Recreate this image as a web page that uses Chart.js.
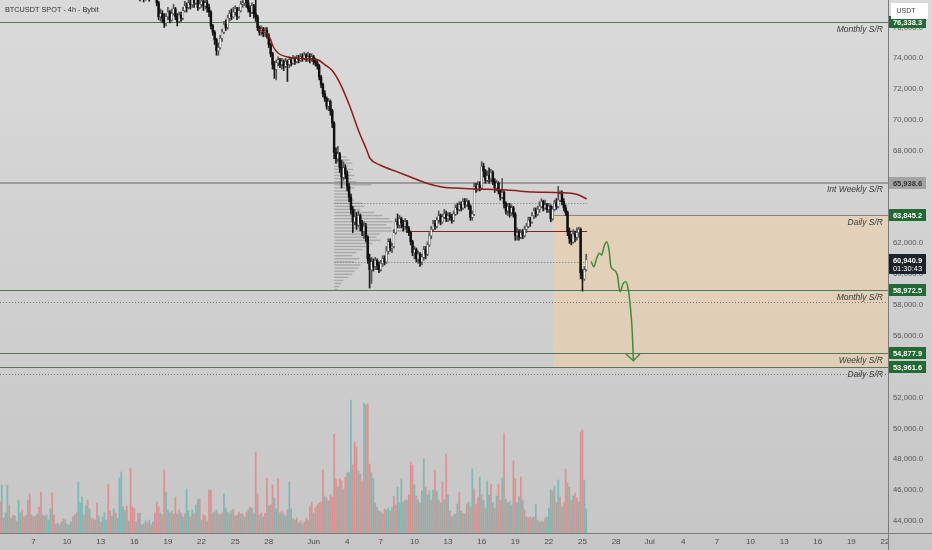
<!DOCTYPE html>
<html><head><meta charset="utf-8">
<script src="https://cdn.jsdelivr.net/npm/chart.js@4.4.1/dist/chart.umd.min.js"></script>
<style>html,body{margin:0;padding:0;background:#d0d0d0;overflow:hidden}canvas{display:block}</style>
</head><body>
<canvas id="c" width="932" height="550"></canvas>
<script>
// ---------------- DATA ----------------
const chartTitle = 'BTCUSDT SPOT - 4h - Bybit';
const currency = 'USDT';

// 4h candles, first candle at May 16 12:00 (day 16.5, days counted from May 0)
const candleStartDay = 16.5;
const candleStepDay = 1 / 6;
const firstOpen = 78300;
const closes = [
78000,78200,77900,78100,78300,78000,78200,78400,78200,77600,
76700,76900,76600,76300,76700,77000,76500,76900,77200,76700,
76400,76800,76600,77100,77400,77300,77600,77500,77800,77600,
77900,77300,77500,77700,77400,77600,77300,77000,76100,75700,
75200,74500,74700,75300,75700,76200,76000,76600,76900,76700,
77000,77200,76700,77100,77500,77600,77800,77600,77200,77000,
77400,76900,76700,76000,75700,75900,75600,75800,75500,74900,
74300,73600,73300,73700,73900,73600,73800,73500,73800,73600,
73900,73700,74000,73800,74000,73900,74100,74000,74200,74000,
74100,74000,74100,73800,73700,73500,72800,72300,71700,71400,
70900,71200,70600,69800,67900,67500,67800,66900,66300,66900,
66500,65700,65000,64200,63400,63700,63200,63800,63300,62800,
63100,62400,61000,60300,60800,60500,60900,60600,60300,60700,
61000,60800,61500,62100,61700,61800,62700,63400,63200,63600,
63300,63100,63400,63000,62700,62100,61400,61600,61000,61300,
60800,61100,61600,61300,61900,62500,62900,63300,63100,63500,
63800,63400,63700,63900,63600,63800,63700,63500,63900,64300,
64200,64500,64300,64700,64500,64700,64400,63700,63900,65700,
65500,65800,65600,67000,66700,66100,66400,66200,66600,66000,
65600,65900,65400,65000,65300,64600,64100,64400,64000,64300,
63900,62500,62700,62400,62700,62500,62900,63100,63500,63400,
63800,64100,63900,64200,64400,64700,64300,64500,64200,64400,
63600,64200,64600,64400,64800,65200,64700,64300,64000,62800,
62300,62100,62600,62400,62700,62900,60100,59700,60300,60940.9];
const highs = [
78600,78500,78400,78400,78500,78400,78500,78700,78600,78400,
77700,77200,77100,76900,76900,77300,77100,77200,77500,77300,
76900,77000,77000,77300,77700,77600,77900,77900,78100,78000,
78300,78100,77800,78000,77900,77900,77800,77500,77100,76200,
75800,75300,75000,75500,75900,76400,76500,76800,77100,77200,
77300,77400,77300,77300,77700,77900,78100,77900,77800,77400,
77600,77500,77900,76800,76100,76100,76000,76000,76000,75600,
75000,74400,73800,73900,74100,74000,74000,73900,74000,73900,
74100,74000,74200,74100,74200,74200,74300,74300,74400,74300,
74400,74300,74300,74200,74000,73900,73600,72900,72400,71900,
71500,71400,71300,70700,69900,68200,68300,67900,67400,67300,
67100,66700,65900,65200,64400,64200,64000,64100,63900,63500,
63400,63300,62500,61300,61100,61000,61100,61000,60800,60900,
61200,61200,61800,62300,62300,62000,62900,63600,63900,63800,
63700,63500,63600,63500,63100,62800,62200,61800,61700,61500,
61400,61300,61800,61800,62100,62700,63100,63500,63500,63700,
64100,63900,63900,64200,64100,64000,64000,63900,64100,64500,
64600,64700,64700,64900,64900,64900,64800,64500,64100,65900,
65900,66000,66000,67300,67200,66800,66700,66900,66800,66700,
66200,66100,66000,65500,66200,65400,64700,64600,64600,64500,
64400,64000,63000,62900,62900,62900,63100,63300,63700,63700,
64000,64300,64300,64400,64700,64900,64800,64800,64600,64600,
64500,64400,64800,64900,65700,65400,65400,64900,64500,64100,
63000,62600,62900,62800,63000,63050,63000,60300,60500,61300];
const lows = [
77720,77800,77650,77760,77900,77700,77900,78000,77900,77400,
76500,76400,76300,76000,76100,76500,76300,76400,76800,76500,
76100,76300,76400,76500,77000,77000,77200,77200,77300,77300,
77500,77100,77200,77300,77100,77200,77000,76700,75900,75500,
74900,74200,74200,74600,75100,75600,75800,75900,76400,76500,
76600,76800,76500,76600,77000,77300,77400,77300,77000,76700,
76900,76600,76400,75800,75500,75500,75400,75400,75300,74700,
74100,73300,72700,72600,73500,73400,73300,73200,73400,72500,
73400,73500,73600,73600,73700,73700,73800,73800,73900,73800,
73800,73700,73800,73600,73500,73300,72600,72100,71500,71200,
70700,70600,70300,69500,67500,67200,67300,66600,65600,66100,
66200,65400,64700,63900,62700,63200,62900,63100,62800,62500,
62300,62100,60700,59100,59400,60200,60300,60300,60100,60200,
60500,60600,60700,61300,61500,61400,61700,62600,63000,63000,
63000,62800,62900,62700,62500,61900,61200,61000,60800,60700,
60500,60600,60900,61000,61200,61800,62300,62800,62900,63000,
63300,63200,63300,63600,63400,63400,63500,63300,63400,63800,
63900,64100,64100,64200,64300,64400,64200,63500,63500,63800,
65300,65400,65400,65500,66300,65900,66000,65900,66000,65800,
65300,65400,65200,64800,64900,64300,63900,63800,63700,63800,
63700,62200,62200,62200,62300,62300,62400,62700,63000,63100,
63300,63600,63700,63800,64000,64300,64100,64200,64000,64000,
63400,63500,64100,64200,64300,64700,64500,64100,63800,62500,
62000,61900,62000,62100,62200,62400,59700,58900,59600,60200];

// 4h volume, first bar at May 4 00:00
const volStartDay = 4;
const volumes = [
310,480,150,200,480,280,150,180,170,120,
330,200,230,160,180,330,390,180,160,170,
190,260,410,180,170,180,130,240,400,180,
90,100,80,110,140,130,90,80,110,160,
180,200,510,300,360,180,280,330,240,150,
140,130,300,170,110,160,200,130,490,220,
170,240,200,150,550,610,260,230,270,120,
650,260,240,110,200,200,80,90,120,100,
130,80,110,200,310,260,200,180,630,410,
230,200,220,190,360,190,230,200,160,190,
440,220,160,230,200,280,340,340,130,180,
170,120,430,430,200,210,230,190,180,200,
390,250,210,200,220,240,170,180,210,190,
190,160,210,230,260,250,200,810,390,180,
200,160,200,550,270,280,480,350,240,540,
200,220,190,170,230,510,240,140,130,150,
100,120,90,110,150,130,260,310,200,250,
280,300,310,630,370,350,320,380,360,990,
540,460,540,520,440,560,600,610,1330,680,
910,860,620,590,520,1300,1280,1290,690,600,
540,300,260,220,210,190,240,230,250,220,
260,370,280,460,300,540,310,330,330,380,
710,680,480,370,330,300,420,740,460,380,
420,330,430,630,420,330,300,510,330,790,
380,220,160,180,190,290,410,220,200,190,
290,310,260,640,440,290,360,560,380,330,
250,520,380,490,300,250,370,490,330,550,
1000,340,300,320,280,720,540,300,360,560,
330,230,160,150,160,150,160,290,130,110,
120,110,150,160,250,430,420,470,300,530,
360,260,300,640,500,460,330,370,400,350,
310,1010,1030,530,240];
const volDir = (
'duduududud'+'uudduddudd'+'udduduuudd'+'uduududuud'+'uduuududud'+
'dududuuudd'+'uuduuuuudu'+'ddduduudud'+'ududdduddu'+'ududduduud'+
'uududuudud'+'duddududud'+'uuduuddudu'+'dududuuddu'+'duddudduud'+
'uduuduudud'+'ududduddud'+'ddddududdd'+'duddudduud'+'dduddudddu'+
'udududduud'+'udduuuudud'+'ddududuudu'+'ududududud'+'ududuududu'+
'dududddudu'+'duudududdu'+'duduudduud'+'ududdududu'+'duduuududu'+
'dudddududd'+'udduu').split('');

// anchored average line (day, price)
const maDays   = [27.06,27.51,27.81,28.11,28.40,28.85,29.60,30.49,31.38,32.42,33.02,33.62,34.36,35.25,35.99,36.74,37.03,37.93,39.42,40.60,42.09,43.58,45.07,46.25,49.24,51.61,54.00,55.48,56.38];
const maPrices = [75880,75730,75620,75300,74750,74330,74100,74000,73980,73890,73570,73240,72380,70860,69350,68050,67520,67080,66650,66320,65900,65640,65570,65530,65460,65330,65290,65180,64880];

// projected path (day, price) and its arrow head
const projDays   = [56.78,57.01,57.27,57.50,57.71,57.92,58.16,58.37,58.54,58.81,59.11,59.35,59.64,59.88,60.09,60.30,60.45,60.54];
const projPrices = [60811,60486,61031,61356,61245,61783,62108,61570,60486,60273,59948,58865,59410,59514,58976,57678,56167,54436];
const headDays   = [59.88,60.54,61.13];
const headPrices = [54825,54391,54825];

// support / resistance levels
const levelPrices = [76338.3, 65938.6, 63845.2, 58972.5, 54877.9, 53961.6];
const levelNames  = ['Monthly S/R','Int Weekly S/R','Daily S/R','Monthly S/R','Weekly S/R','Daily S/R'];
const levelKinds  = ['sr','int','box','sr','sr','sr'];
const dottedFull  = [58200, 53520];

// zone box
const boxStartDay = 53.37;
const boxTop = 63845.2;
const boxBottom = 53961.6;

// volume profile (anchored at day 33.85, ends at day 56.4)
const vpStartDay = 33.85;
const vpEndDay = 56.4;
const vpPoc = 62834, vpHigh = 64617, vpLow = 60772;
const vpPrices = [67600,67400,67200,67000,66800,66600,66400,66200,66000,65800,65600,65400,65200,65000,64800,64600,64400,64200,64000,63800,63600,63400,63200,63000,62800,62600,62400,62200,62000,61800,61600,61400,61200,61000,60800,60600,60400,60200,60000,59800,59600,59400,59200,59000];
const vpVolumes = [120,150,180,140,190,160,200,170,220,370,200,160,180,150,200,280,300,260,400,480,550,580,520,570,770,450,420,460,380,350,280,220,180,250,200,260,240,200,180,140,90,70,50,30];

const lastPrice = 60940.9;
const countdown = '01:30:43';

const priceTicks = [44000,46000,48000,50000,52000,54000,56000,58000,60000,62000,64000,66000,68000,70000,72000,74000,76000];
const dayTicks  = [7,10,13,16,19,22,25,28,32,35,38,41,44,47,50,53,56,59,62,65,68,71,74,77,80,83];
const dayLabels = ['7','10','13','16','19','22','25','28','Jun','4','7','10','13','16','19','22','25','28','Jul','4','7','10','13','16','19','22'];

// ---------------- BUILD ----------------
const FONT = "'Liberation Sans', Arial, sans-serif";
const fmt = v => v.toLocaleString('en-US', {minimumFractionDigits: 1, maximumFractionDigits: 1});

const cDays = closes.map((_, i) => candleStartDay + i * candleStepDay);
const opens = closes.map((c, i) => i === 0 ? firstOpen : closes[i - 1]);
const isUp = closes.map((c, i) => c >= opens[i]);
const wickData = cDays.map((d, i) => ({x: d, y: [Math.min(lows[i], opens[i], closes[i]), Math.max(highs[i], opens[i], closes[i])]}));
const bodyData = cDays.map((d, i) => ({x: d, y: [opens[i], closes[i]]}));
const volData = volumes.map((v, j) => ({x: volStartDay + j / 6, y: v}));
const maData = maDays.map((d, i) => ({x: d, y: maPrices[i]}));
const projData = projDays.map((d, i) => ({x: d, y: projPrices[i]}));
const headData = headDays.map((d, i) => ({x: d, y: headPrices[i]}));

const bgPlugin = {
  id: 'bg',
  beforeDraw(chart) {
    const ctx = chart.ctx;
    const g = ctx.createLinearGradient(0, 0, 0, chart.height);
    g.addColorStop(0, '#dadada');
    g.addColorStop(1, '#c6c6c6');
    ctx.save();
    ctx.fillStyle = g;
    ctx.fillRect(0, 0, chart.width, chart.height);
    ctx.restore();
  }
};

function hLine(ctx, x1, x2, y, color, width, dash) {
  ctx.save();
  ctx.strokeStyle = color;
  ctx.lineWidth = width;
  ctx.setLineDash(dash || []);
  ctx.beginPath();
  const yy = Math.round(y) + (width % 2 ? 0.5 : 0);
  ctx.moveTo(x1, yy);
  ctx.lineTo(x2, yy);
  ctx.stroke();
  ctx.restore();
}

const underlay = {
  id: 'underlay',
  beforeDatasetsDraw(chart) {
    const ctx = chart.ctx, xs = chart.scales.x, ys = chart.scales.y, a = chart.chartArea;
    ctx.save();
    ctx.beginPath();
    ctx.rect(a.left, a.top, a.right - a.left, a.bottom - a.top);
    ctx.clip();
    // zone box
    const bx = xs.getPixelForValue(boxStartDay);
    const by1 = ys.getPixelForValue(boxTop), by2 = ys.getPixelForValue(boxBottom);
    ctx.fillStyle = 'rgba(250,210,150,0.42)';
    ctx.fillRect(bx, by1, a.right - bx, by2 - by1);
    // dotted full-width levels
    dottedFull.forEach(p => hLine(ctx, a.left, a.right, ys.getPixelForValue(p), '#7a7a7a', 1, [1, 2]));
    // S/R levels
    levelPrices.forEach((p, i) => {
      const y = ys.getPixelForValue(p);
      if (levelKinds[i] === 'sr') hLine(ctx, a.left, a.right, y, '#4f7a5c', 1);
      else if (levelKinds[i] === 'int') hLine(ctx, a.left, a.right, y, '#9c9c9c', 2);
      else hLine(ctx, bx, a.right, y, '#8c8576', 1);
    });
    // volume profile
    const x0 = xs.getPixelForValue(vpStartDay);
    const xe = xs.getPixelForValue(vpEndDay);
    const maxV = Math.max(...vpVolumes);
    const spanPx = xs.getPixelForValue(vpStartDay + 6.9) - x0;
    ctx.fillStyle = 'rgba(120,120,120,0.45)';
    vpPrices.forEach((p, i) => {
      const yc = ys.getPixelForValue(p);
      ctx.fillRect(x0, yc - 0.7, vpVolumes[i] / maxV * spanPx, 1.4);
    });
    hLine(ctx, x0, xe, ys.getPixelForValue(vpHigh), '#707070', 1, [1, 2]);
    hLine(ctx, x0, xe, ys.getPixelForValue(vpLow), '#707070', 1, [1, 2]);
    hLine(ctx, x0 + spanPx, xe, ys.getPixelForValue(vpPoc), '#842020', 1);
    ctx.restore();
  }
};

function tag(ctx, y, text, bg, fg) {
  ctx.fillStyle = bg;
  ctx.fillRect(889, Math.round(y) - 6, 37, 12);
  ctx.fillStyle = fg;
  ctx.font = 'bold 7.5px ' + FONT;
  ctx.textAlign = 'center';
  ctx.textBaseline = 'middle';
  ctx.fillText(text, 907.5, Math.round(y) + 0.5);
}

const overlay = {
  id: 'overlay',
  afterDraw(chart) {
    const ctx = chart.ctx, ys = chart.scales.y, a = chart.chartArea;
    ctx.save();
    // axis borders
    ctx.strokeStyle = '#7c7c7c';
    ctx.lineWidth = 1;
    ctx.beginPath();
    ctx.moveTo(0, Math.round(a.bottom) + 0.5); ctx.lineTo(chart.width, Math.round(a.bottom) + 0.5);
    ctx.moveTo(Math.round(a.right) + 0.5, 0); ctx.lineTo(Math.round(a.right) + 0.5, chart.height);
    ctx.stroke();
    // level names
    ctx.font = 'italic 8.5px ' + FONT;
    ctx.fillStyle = '#3a3a3a';
    ctx.textAlign = 'right';
    ctx.textBaseline = 'middle';
    levelPrices.forEach((p, i) => ctx.fillText(levelNames[i], a.right - 5, ys.getPixelForValue(p) + 7.5));
    // price tags
    levelPrices.forEach((p, i) => {
      if (levelKinds[i] === 'int') tag(ctx, ys.getPixelForValue(p), fmt(p), '#a3a3a3', '#333');
      else tag(ctx, ys.getPixelForValue(p), fmt(p), '#1f6b32', '#ffffff');
    });
    const ly = ys.getPixelForValue(lastPrice);
    ctx.fillStyle = '#1d2129';
    ctx.fillRect(889, Math.round(ly) - 6, 37, 20);
    ctx.fillStyle = '#ffffff';
    ctx.font = 'bold 7.5px ' + FONT;
    ctx.textAlign = 'center';
    ctx.fillText(fmt(lastPrice), 907.5, Math.round(ly) + 0.5);
    ctx.font = '7.5px ' + FONT;
    ctx.fillText(countdown, 907.5, Math.round(ly) + 9);
    // title
    ctx.font = '7.3px ' + FONT;
    ctx.fillStyle = '#333';
    ctx.textAlign = 'left';
    ctx.fillText(chartTitle, 5, 10);
    // currency box
    ctx.fillStyle = '#ffffff';
    ctx.fillRect(891, 3, 37, 16);
    ctx.fillStyle = '#444';
    ctx.font = '7px ' + FONT;
    ctx.textAlign = 'center';
    ctx.fillText(currency, 906, 11.5);
    ctx.restore();
  }
};

new Chart(document.getElementById('c'), {
  type: 'bar',
  data: {
    datasets: [
      {type: 'line', data: headData, borderColor: '#3e8a3e', borderWidth: 1.5, pointRadius: 0, tension: 0, yAxisID: 'y', order: 0},
      {type: 'line', data: projData, borderColor: '#3e8a3e', borderWidth: 1.5, pointRadius: 0, cubicInterpolationMode: 'monotone', yAxisID: 'y', order: 1},
      {type: 'line', data: maData, borderColor: '#8e1b1b', borderWidth: 1.5, pointRadius: 0, cubicInterpolationMode: 'monotone', yAxisID: 'y', order: 2},
      {data: bodyData, grouped: false, barThickness: 1.8, minBarLength: 1, borderSkipped: false,
       borderWidth: isUp.map(u => u ? 0.45 : 0),
       borderColor: '#3a3a3a',
       backgroundColor: isUp.map(u => u ? '#f4f4f4' : '#111111'), yAxisID: 'y', order: 3},
      {data: wickData, grouped: false, barThickness: 1, borderWidth: 0, borderSkipped: false,
       backgroundColor: isUp.map(u => u ? '#555555' : '#1a1a1a'), yAxisID: 'y', order: 4},
      {data: volData, grouped: false, barThickness: 1.1, borderWidth: 0,
       backgroundColor: volDir.map(d => d === 'u' ? 'rgba(38,166,154,0.45)' : 'rgba(239,83,80,0.45)'), yAxisID: 'yv', order: 5}
    ]
  },
  options: {
    responsive: false,
    animation: false,
    events: [],
    layout: {padding: 0},
    plugins: {legend: {display: false}, tooltip: {enabled: false}},
    scales: {
      x: {
        type: 'linear', min: 4.01, max: 83.27, offset: false,
        grid: {display: false, drawTicks: false}, border: {display: false},
        ticks: {autoSkip: false, maxRotation: 0, padding: 3.5, color: '#4a4a4a', font: {size: 8, family: FONT},
          callback: v => { const i = dayTicks.indexOf(v); return i >= 0 ? dayLabels[i] : ''; }},
        afterBuildTicks: s => { s.ticks = dayTicks.map(v => ({value: v})); },
        afterFit: s => { s.height = 17; s.paddingLeft = 0; s.paddingRight = 0; }
      },
      y: {
        position: 'right', min: 43217, max: 77782,
        grid: {display: false, drawTicks: false}, border: {display: false},
        ticks: {padding: 5, color: '#555', font: {size: 7.7, family: FONT}, callback: v => fmt(v)},
        afterBuildTicks: s => { s.ticks = priceTicks.map(v => ({value: v})); },
        afterFit: s => { s.width = 44; s.paddingTop = 0; s.paddingBottom = 0; }
      },
      yv: {display: false, min: 0, max: 5330}
    }
  },
  plugins: [bgPlugin, underlay, overlay]
});
</script>
</body></html>
